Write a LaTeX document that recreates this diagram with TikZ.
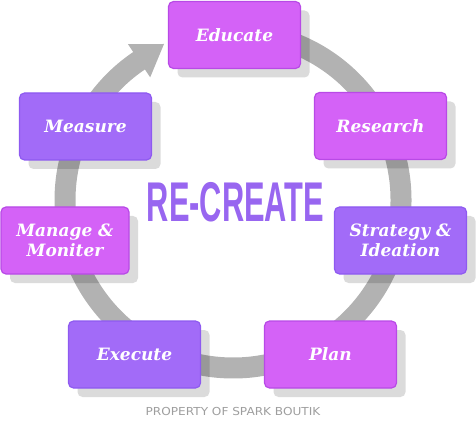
\documentclass[tikz,border=0pt]{standalone}
\usepackage{fontspec}
\setmainfont{DejaVu Serif}
\newfontfamily\titlefont{Liberation Sans}
\newfontfamily\footfont{DejaVu Sans}
\usetikzlibrary{shadows}
\definecolor{magfill}{HTML}{D462F7}
\definecolor{magdraw}{HTML}{B84AE6}
\definecolor{viofill}{HTML}{A26BF8}
\definecolor{viodraw}{HTML}{8E5AF0}
\definecolor{ringcol}{HTML}{B2B2B2}
\definecolor{titlecol}{HTML}{9866F0}
\definecolor{footcol}{HTML}{9E9E9E}
\begin{document}
\begin{tikzpicture}[x=1pt,y=1pt,
  ring/.style={draw=ringcol, line width=21pt, line cap=butt},
  box/.style={rounded corners=5pt, minimum width=132pt, minimum height=67pt,
    line width=1.2pt, text=white, inner sep=0pt, align=center,
    font=\fontsize{17}{20.5}\selectfont\bfseries\itshape,
    drop shadow={shadow xshift=9pt, shadow yshift=-9pt, fill=black, opacity=0.14}},
  mag/.style={box, fill=magfill, draw=magdraw},
  vio/.style={box, fill=viofill, draw=viodraw}]
\useasboundingbox (0,0) rectangle (476,426);
\coordinate (c) at (233,226);
% circular arrow
\draw[ring] ([shift={(85:168)}]c) arc[start angle=85, end angle=-236.5, radius=168];
\fill[ringcol] (127.9,381.9) -- (164,382) -- (150.2,348.7) -- cycle;
% boxes
\node[mag] (educate)  at (234.5,391)   {Educate};
\node[mag] (research) at (380.5,300)   {Research};
\node[vio] (strategy) at (400.5,185.5) {Strategy \&\\Ideation};
\node[mag] (plan)     at (330.5,71.5)  {Plan};
\node[vio] (execute)  at (134.5,71.5)  {Execute};
\node[mag, minimum width=128pt] (manage) at (65,185.5) {Manage \&\\Moniter};
\node[vio] (measure)  at (85.5,299.5)  {Measure};
% title
\node[text=titlecol, inner sep=0pt] (title) at (235.5,224)
  {\titlefont\bfseries\fontsize{56}{56}\selectfont\scalebox{0.55}[1]{RE-CREATE}};
\node[text=footcol, inner sep=0pt] (foot) at (233,14.5)
  {\footfont\fontsize{11}{11}\selectfont\scalebox{1.1}[1]{PROPERTY OF SPARK BOUTIK}};
\end{tikzpicture}
\end{document}
